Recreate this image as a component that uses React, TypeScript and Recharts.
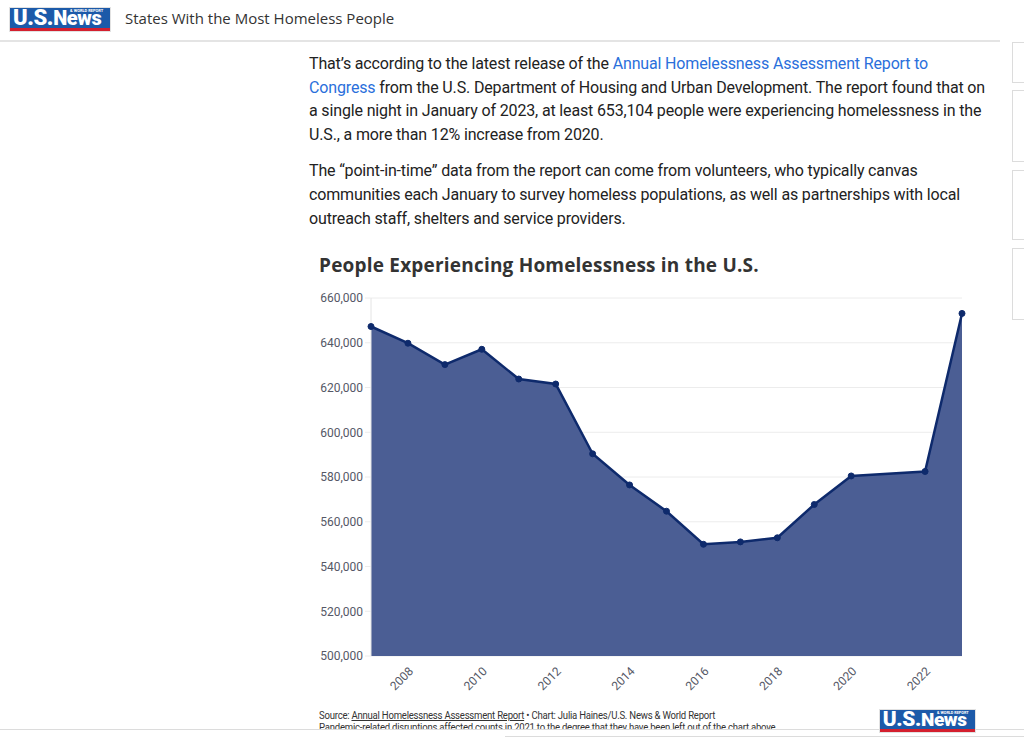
import { AreaChart, Area, XAxis, YAxis, CartesianGrid } from 'recharts';

// Years on the chart (2021 is left out in the source)
const YEARS = [2007, 2008, 2009, 2010, 2011, 2012, 2013, 2014, 2015, 2016, 2017, 2018, 2019, 2020, 2022, 2023];
// People experiencing homelessness, point-in-time count
const HOMELESS = [647258, 639784, 630227, 637077, 623788, 621553, 590364, 576450, 564708, 549928, 550996, 552830, 567715, 580466, 582462, 653104];
const Y_TICKS = [500000, 520000, 540000, 560000, 580000, 600000, 620000, 640000, 660000];
const X_TICKS = [2008, 2010, 2012, 2014, 2016, 2018, 2020, 2022];

const chartData = YEARS.map((year, i) => ({ year, value: HOMELESS[i] }));

const FILL = '#4b5e94';
const LINE = '#0e2a6c';
const TICK = { fill: '#555866', fontSize: 12, fontFamily: 'Roboto' };

const Logo = ({ left, top, scale = 1 }: { left: number; top: number; scale?: number }) => (
  <div
    style={{
      position: 'absolute', left, top, width: 100 * scale, height: 23 * scale,
      background: '#1c5aa9', boxShadow: '0 0 0 1px #e2e2e2',
      fontFamily: 'Roboto', color: '#fff', fontWeight: 900, whiteSpace: 'nowrap',
    }}
  >
    <div style={{ position: 'absolute', left: 3 * scale, top: -1 * scale, fontSize: 22 * scale, letterSpacing: -0.4 * scale, lineHeight: `${22 * scale}px` }}>
      U.S.<span style={{ fontSize: 20 * scale }}>News</span>
    </div>
    <div style={{ position: 'absolute', left: 60 * scale, top: 1 * scale, fontWeight: 700, fontSize: 4 * scale, lineHeight: 1 }}>
      &amp; WORLD REPORT
    </div>
    <div style={{ position: 'absolute', left: 0, right: 0, bottom: 0, height: 3 * scale, background: '#d4202f' }} />
  </div>
);

const line = (top: number, children: any) => (
  <div style={{ position: 'absolute', left: 309, top, height: 24, lineHeight: '24px', whiteSpace: 'nowrap' }}>{children}</div>
);

const link = { color: '#2a6fdb' };

const App = () => {
  return (
    <div style={{ position: 'absolute', left: 0, top: 0, width: 1024, height: 738, overflow: 'hidden', background: '#fff' }}>
      {/* header bar */}
      <div style={{ position: 'absolute', left: 0, top: 0, width: 1000, height: 40, background: '#fff', borderBottom: '2px solid #e4e4e4' }} />
      <Logo left={10} top={8} />
      <div style={{ position: 'absolute', left: 125, top: 8, fontFamily: 'Open Sans', fontSize: 15, color: '#333', lineHeight: '20px', whiteSpace: 'nowrap' }}>
        States With the Most Homeless People
      </div>

      {/* side boxes */}
      {[[42, 41], [90, 72], [170, 70], [248, 72]].map(([t, h], i) => (
        <div key={i} style={{ position: 'absolute', left: 1012, top: t, width: 20, height: h, border: '1px solid #dcdcdc', boxSizing: 'border-box' }} />
      ))}

      {/* article text */}
      <div style={{ fontFamily: 'Roboto', fontSize: 16, color: '#222', letterSpacing: -0.15 }}>
        {line(52, <>That’s according to the latest release of the <span style={link}>Annual Homelessness Assessment Report to</span></>)}
        {line(76, <><span style={link}>Congress</span> from the U.S. Department of Housing and Urban Development. The report found that on</>)}
        {line(99, 'a single night in January of 2023, at least 653,104 people were experiencing homelessness in the')}
        {line(123, 'U.S., a more than 12% increase from 2020.')}
        {line(159, 'The “point-in-time” data from the report can come from volunteers, who typically canvas')}
        {line(183, 'communities each January to survey homeless populations, as well as partnerships with local')}
        {line(207, 'outreach staff, shelters and service providers.')}
      </div>

      {/* chart title */}
      <div style={{ position: 'absolute', left: 319, top: 252, fontFamily: 'Open Sans', fontWeight: 700, fontSize: 19, letterSpacing: 0.2, color: '#333', lineHeight: '26px', whiteSpace: 'nowrap' }}>
        People Experiencing Homelessness in the U.S.
      </div>

      <div style={{ position: 'absolute', left: 300, top: 290 }}>
        <AreaChart width={680} height={420} data={chartData} margin={{ top: 8, right: 18, bottom: 0, left: 0 }}>
          <CartesianGrid vertical={false} stroke="#ececec" />
          <XAxis
            dataKey="year"
            type="number"
            domain={[2007, 2023]}
            ticks={X_TICKS}
            height={54}
            axisLine={false}
            tickLine={false}
            angle={-45}
            textAnchor="end"
            dy={2}
            tick={TICK}
          />
          <YAxis
            domain={[500000, 660000]}
            ticks={Y_TICKS}
            width={71}
            axisLine={{ stroke: '#e4e4e4' }}
            tickLine={{ stroke: '#ececec' }}
            tick={TICK}
            tickFormatter={(v: number) => v.toLocaleString('en-US')}
          />
          <Area
            type="linear"
            dataKey="value"
            stroke={LINE}
            strokeWidth={2.5}
            fill={FILL}
            fillOpacity={1}
            dot={{ r: 3, fill: LINE, stroke: LINE, strokeWidth: 1 }}
            isAnimationActive={false}
          />
        </AreaChart>
      </div>

      {/* footer */}
      <div style={{ position: 'absolute', left: 319, top: 710, fontFamily: 'Roboto', fontSize: 10.5, color: '#333', lineHeight: '12px', whiteSpace: 'nowrap', letterSpacing: -0.25, transform: 'scaleX(0.91)', transformOrigin: 'left top' }}>
        Source: <span style={{ textDecoration: 'underline' }}>Annual Homelessness Assessment Report</span> • Chart: Julia Haines/U.S. News &amp; World Report
        <br />
        Pandemic-related disruptions affected counts in 2021 to the degree that they have been left out of the chart above.
      </div>
      <div style={{ position: 'absolute', left: 0, top: 729, width: 1024, height: 9, background: '#fff', borderTop: '1px solid #dcdcdc' }} />
      <div style={{ position: 'absolute', left: 505, top: 736, width: 519, height: 1, background: '#dcdcdc' }} />
      <Logo left={880} top={710} scale={0.95} />
    </div>
  );
};

export default App;
